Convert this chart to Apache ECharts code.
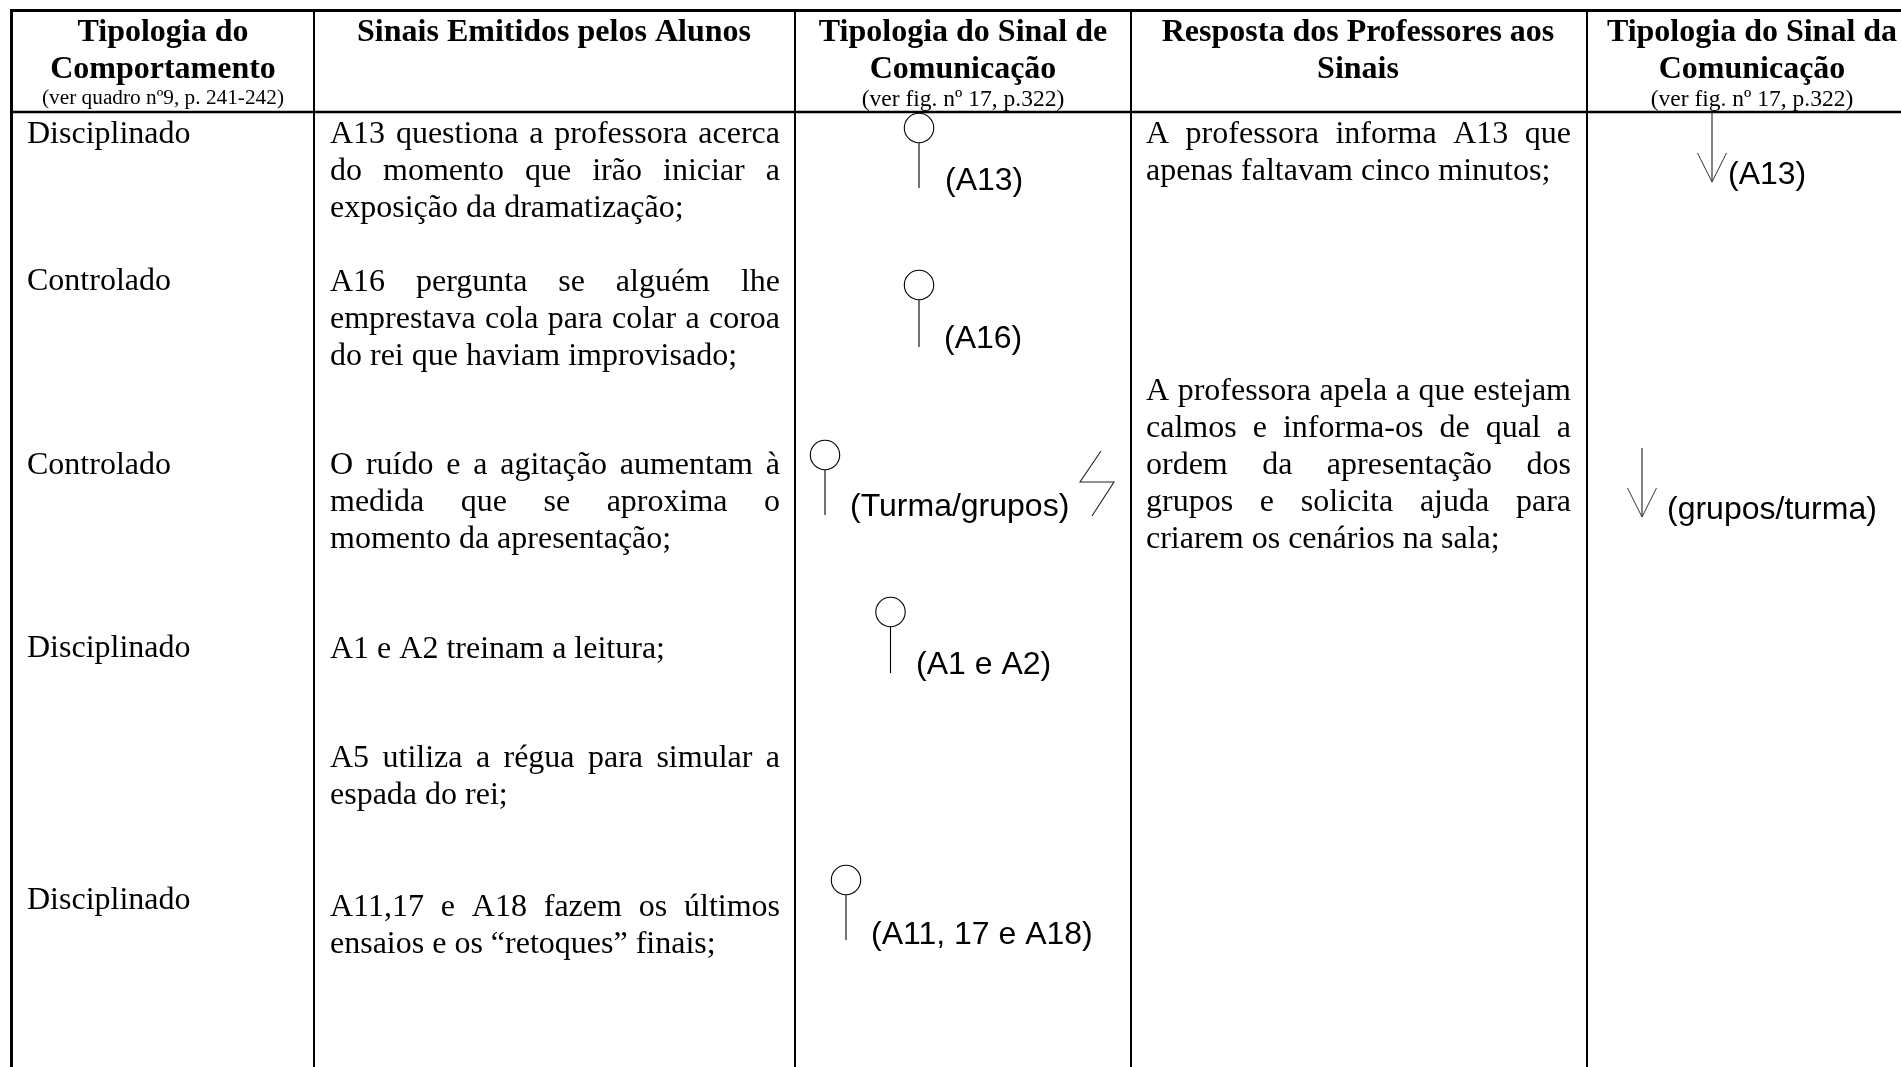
<!DOCTYPE html>
<html>
<head>
<meta charset="utf-8">
<style>
  html, body { margin: 0; padding: 0; background: #fff; }
  #main { width: 1901px; height: 1067px; }
</style>
<script src="https://cdn.jsdelivr.net/npm/echarts@6/dist/echarts.min.js"></script>
</head>
<body>
<div id="main"></div>
<script>
  // table content
  var headers = [
    ['Tipologia do', 'Comportamento'],
    ['Sinais Emitidos pelos Alunos'],
    ['Tipologia do Sinal de', 'Comunicação'],
    ['Resposta dos Professores aos', 'Sinais'],
    ['Tipologia do Sinal da', 'Comunicação']
  ];
  var headerNotes = ['(ver quadro nº9, p. 241-242)', '', '(ver fig. nº 17, p.322)', '', '(ver fig. nº 17, p.322)'];
  var behaviours = ['Disciplinado', 'Controlado', 'Controlado', 'Disciplinado', 'Disciplinado'];
  var studentSignals = [
    ['A13 questiona a professora acerca', 'do momento que irão iniciar a', 'exposição da dramatização;'],
    ['A16 pergunta se alguém lhe', 'emprestava cola para colar a coroa', 'do rei que haviam improvisado;'],
    ['O ruído e a agitação aumentam à', 'medida que se aproxima o', 'momento da apresentação;'],
    ['A1 e A2 treinam a leitura;'],
    ['A5 utiliza a régua para simular a', 'espada do rei;'],
    ['A11,17 e A18 fazem os últimos', 'ensaios e os “retoques” finais;']
  ];
  var teacherReplies = [
    ['A professora informa A13 que', 'apenas faltavam cinco minutos;'],
    ['A professora apela a que estejam', 'calmos e informa-os de qual a', 'ordem da apresentação dos', 'grupos e solicita ajuda para', 'criarem os cenários na sala;']
  ];
  var signalLabels = ['(A13)', '(A16)', '(Turma/grupos)', '(A1 e A2)', '(A11, 17 e A18)'];
  var replyLabels = ['(A13)', '(grupos/turma)'];

  // layout, in page pixels
  var colX = [11.5, 314, 795, 1131, 1587];
  var topY = 10.5, headY = 112, bottomY = 1067, rightX = 1901;
  var headCx = [163, 554, 963, 1358, 1752];
  var headLineY = [32.5, 69.5], noteY = [98, 0, 100, 0, 100];
  var behaviourY = [134.5, 281.5, 465.5, 648.5, 900.5];
  var studentY = [134.5, 282.5, 465.5, 649.5, 758.5, 907.5];
  var teacherY = [134.5, 391.5];
  var lineGap = 37;
  var bodyFont = '32px "Liberation Serif"', boldFont = 'bold 32px "Liberation Serif"';
  var noteFonts = ['21.3px "Liberation Serif"', '', '23.5px "Liberation Serif"', '', '23.5px "Liberation Serif"'];
  var labelFont = '32px "Liberation Sans"';
  // circle cx, cy, stem end y and label x, label y of each lollipop
  var pins = [
    [919, 128, 188, 945, 181],
    [919, 285, 347, 944, 339],
    [825, 455, 515, 850, 507],
    [890.5, 612, 673, 916, 665],
    [846, 880, 940, 871, 935]
  ];
  // arrow x, top, tip, label x, label y
  var arrows = [
    [1712, 112, 182, 1728, 175],
    [1642, 448, 517, 1667, 510]
  ];

  var measure = document.createElement('canvas').getContext('2d');
  var els = [];

  function addText(text, x, y, font, align) {
    els.push({
      type: 'text',
      style: { text: text, x: x, y: y, font: font, fill: '#000', textAlign: align || 'left', textVerticalAlign: 'middle' }
    });
  }

  function addLine(x1, y1, x2, y2, w, color) {
    els.push({
      type: 'line',
      shape: { x1: x1, y1: y1, x2: x2, y2: y2 },
      style: { stroke: color || '#000', lineWidth: w }
    });
  }

  // word by word so the lines can be justified like in the document
  function addParagraph(lines, left, right, y) {
    measure.font = bodyFont;
    lines.forEach(function (line, i) {
      var lineY = y + i * lineGap;
      var words = line.split(' ');
      if (i === lines.length - 1 || words.length < 2) {
        addText(line, left, lineY, bodyFont);
        return;
      }
      var total = 0;
      words.forEach(function (w) { total += measure.measureText(w).width; });
      var gap = (right - left - total) / (words.length - 1);
      var x = left;
      words.forEach(function (w) {
        addText(w, x, lineY, bodyFont);
        x += measure.measureText(w).width + gap;
      });
    });
  }

  // grid
  addLine(10, topY, rightX, topY, 3);
  addLine(10, headY, rightX, headY, 2.5);
  colX.forEach(function (x, i) { addLine(x, topY, x, bottomY, i === 0 ? 3 : 2); });

  // header
  headers.forEach(function (lines, c) {
    lines.forEach(function (t, i) { addText(t, headCx[c], headLineY[i], boldFont, 'center'); });
    if (headerNotes[c]) addText(headerNotes[c], headCx[c], noteY[c], noteFonts[c], 'center');
  });

  // body
  behaviours.forEach(function (t, i) { addText(t, 27, behaviourY[i], bodyFont); });
  studentSignals.forEach(function (lines, i) { addParagraph(lines, 330, 780, studentY[i]); });
  teacherReplies.forEach(function (lines, i) { addParagraph(lines, 1146, 1571, teacherY[i]); });

  // lollipop signals
  pins.forEach(function (p, i) {
    els.push({
      type: 'circle',
      shape: { cx: p[0], cy: p[1], r: 14.7 },
      style: { fill: 'none', stroke: '#000', lineWidth: 1.1 }
    });
    addLine(p[0], p[1] + 15, p[0], p[2], 1.1);
    addText(signalLabels[i], p[3], p[4], labelFont);
  });

  // lightning next to the group signal
  els.push({
    type: 'polyline',
    shape: { points: [[1101, 451], [1080, 482], [1114, 482], [1092, 516]] },
    style: { fill: 'none', stroke: '#222', lineWidth: 1.1 }
  });

  // teacher arrows
  arrows.forEach(function (a, i) {
    addLine(a[0], a[1], a[0], a[2], 1.2, '#333');
    els.push({
      type: 'polyline',
      shape: { points: [[a[0] - 14.5, a[2] - 29], [a[0], a[2]], [a[0] + 14.5, a[2] - 29]] },
      style: { fill: 'none', stroke: '#333', lineWidth: 1 }
    });
    addText(replyLabels[i], a[3], a[4], labelFont);
  });

  var chart = echarts.init(document.getElementById('main'), null, { renderer: 'canvas' });
  chart.setOption({
    backgroundColor: '#fff',
    animation: false,
    graphic: { elements: els }
  });
</script>
</body>
</html>
